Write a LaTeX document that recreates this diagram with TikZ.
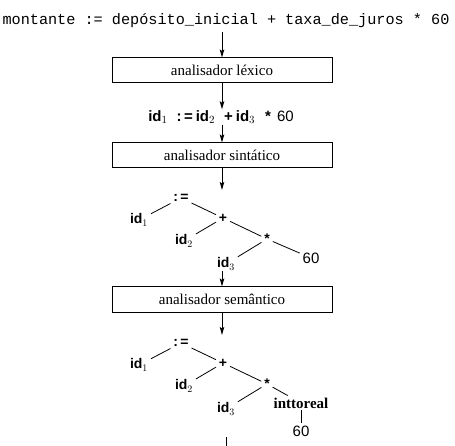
\documentclass[tikz,border=0pt]{standalone}
\usepackage{fontspec}
\setmainfont{Liberation Serif}
\setsansfont{Liberation Sans}
\setmonofont{Liberation Mono}
\usetikzlibrary{arrows.meta}

\begin{document}
\begin{tikzpicture}[x=1pt, y=-1pt, >={Stealth[length=8pt,width=4.5pt,inset=1.5pt]},
  fase/.style={draw, line width=1pt, minimum width=220pt, minimum height=25pt, inner sep=0pt, font=\fontsize{15}{18}\selectfont},
  tok/.style={font=\sffamily\bfseries\fontsize{14}{16}\selectfont, inner sep=1pt},
  seta/.style={line width=0.9pt, ->},
  ramo/.style={line width=0.8pt, shorten <=2pt, shorten >=2pt}]

\useasboundingbox (0,0) rectangle (455,446);

% programa fonte
\node (src) at (226,21) {\ttfamily\fontsize{15.2}{17}\selectfont montante := depósito\_inicial + taxa\_de\_juros * 60};

\node[fase] (lexico) at (222,70.5) {analisador léxico};
\node[tok, font=\sffamily\bfseries\fontsize{15}{17}\selectfont] (tokens) at (221,117)
  {id$_1$\hspace{9pt}:\,=\hspace{3pt}id$_2$\hspace{9pt}+\hspace{3pt}id$_3$\hspace{10pt}*\hspace{6pt}\mdseries 60};
\node[fase] (sintatico) at (222,155.5) {analisador sintático};

% arvore sintatica
\coordinate (arvA) at (222,190);
\node[tok] (asgnA) at (181,198) {:\,=};
\node[tok] (id1A) at (139,220) {id$_1$};
\node[tok] (plusA) at (223,218) {+};
\node[tok] (id2A) at (184,241) {id$_2$};
\node[tok] (timesA) at (267,239) {*};
\node[tok, font=\sffamily\fontsize{15}{17}\selectfont] (n60A) at (311,258) {60};
\node[tok] (id3A) at (226,264) {id$_3$};

\node[fase] (semantico) at (222,299.5) {analisador semântico};

% arvore com conversao
\coordinate (arvB) at (222,335);
\node[tok] (asgnB) at (181,343) {:\,=};
\node[tok] (id1B) at (139,365) {id$_1$};
\node[tok] (plusB) at (223,363) {+};
\node[tok] (id2B) at (184,386) {id$_2$};
\node[tok] (timesB) at (267,384) {*};
\node[tok] (id3B) at (226,409) {id$_3$};
\node[tok, font=\rmfamily\bfseries\fontsize{15}{17}\selectfont] (convB) at (301,403) {inttoreal};
\node[tok, font=\sffamily\fontsize{15}{17}\selectfont] (n60B) at (301,431) {60};

\coordinate (outA) at (226,437);
\coordinate (outB) at (226,446);

\draw[seta] (lexico.north |- src.south) -- (lexico.north);
\draw[seta] (lexico.south) -- (lexico.south |- tokens.north);
\draw[seta] (sintatico.north |- tokens.south) -- (sintatico.north);
\draw[seta] (sintatico.south) -- (arvA);

\draw[ramo] (id1A) -- (asgnA);
\draw[ramo] (asgnA) -- (plusA);
\draw[ramo] (id2A) -- (plusA);
\draw[ramo] (plusA) -- (timesA);
\draw[ramo] (id3A) -- (timesA);
\draw[ramo] (timesA) -- (n60A);

\draw[seta] (semantico.north |- id3A.south) -- (semantico.north);
\draw[seta] (semantico.south) -- (arvB);

\draw[ramo] (id1B) -- (asgnB);
\draw[ramo] (asgnB) -- (plusB);
\draw[ramo] (id2B) -- (plusB);
\draw[ramo] (plusB) -- (timesB);
\draw[ramo] (id3B) -- (timesB);
\draw[ramo] (timesB) -- (convB);
\draw[ramo, shorten <=1pt, shorten >=1pt] (convB) -- (n60B);

\draw[line width=0.9pt] (outA) -- (outB); %saida

\end{tikzpicture}
\end{document}
